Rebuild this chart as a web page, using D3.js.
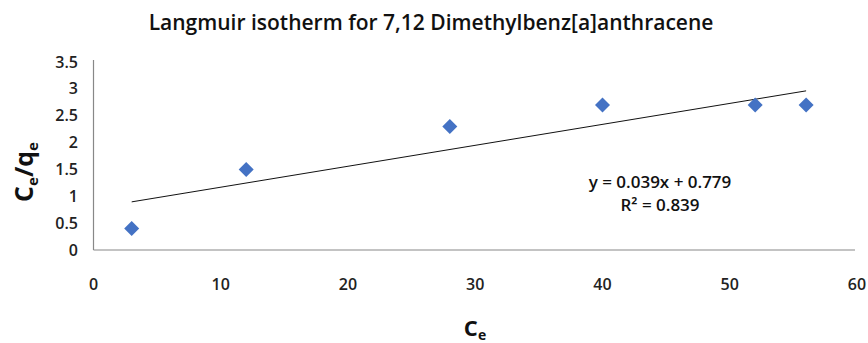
<!DOCTYPE html>
<html>
<head>
<meta charset="utf-8">
<script src="https://cdn.jsdelivr.net/npm/d3@7"></script>
<style>
  body { margin: 0; background: #fff; }
  text { font-family: "Open Sans", "Noto Sans", sans-serif; }
</style>
</head>
<body>
<div id="chart"></div>
<script>
// data
const ce = [3, 12, 28, 40, 52, 56];
const ceqe = [0.4, 1.5, 2.3, 2.7, 2.7, 2.7];
const xTicks = [0, 10, 20, 30, 40, 50, 60];
const yTicks = [0, 0.5, 1, 1.5, 2, 2.5, 3, 3.5];
const slope = 0.039, intercept = 0.779, r2 = 0.839;

const W = 868, H = 343;
const svg = d3.select("#chart").append("svg")
  .attr("width", W).attr("height", H);

const x = d3.scaleLinear().domain([0, 60]).range([93.5, 857]);
const y = d3.scaleLinear().domain([0, 3.5]).range([250, 62]);

// axis lines
svg.append("line")
  .attr("x1", x(0)).attr("x2", x(0))
  .attr("y1", y(0)).attr("y2", y(3.5) - 2)
  .attr("stroke", "#888").attr("stroke-width", 1.2);
svg.append("line")
  .attr("x1", x(0)).attr("x2", x(60) - 2)
  .attr("y1", y(0)).attr("y2", y(0))
  .attr("stroke", "#888").attr("stroke-width", 1.2);

// tick labels
svg.append("g").selectAll("text")
  .data(yTicks).enter().append("text")
  .attr("x", 78).attr("y", d => y(d))
  .attr("dy", "0.35em")
  .attr("text-anchor", "end")
  .attr("font-size", 16).attr("font-weight", 600)
  .attr("fill", "#222")
  .text(d => d);

svg.append("g").selectAll("text")
  .data(xTicks).enter().append("text")
  .attr("x", d => x(d)).attr("y", 284)
  .attr("dy", "0.35em")
  .attr("text-anchor", "middle")
  .attr("font-size", 16).attr("font-weight", 600)
  .attr("fill", "#222")
  .text(d => d);

// trendline
const x0 = d3.min(ce), x1 = d3.max(ce);
svg.append("line")
  .attr("x1", x(x0)).attr("y1", y(slope * x0 + intercept))
  .attr("x2", x(x1)).attr("y2", y(slope * x1 + intercept))
  .attr("stroke", "#111").attr("stroke-width", 1);

// points
svg.append("g").selectAll("path")
  .data(ce).enter().append("path")
  .attr("transform", (d, i) => `translate(${x(d)},${y(ceqe[i])})`)
  .attr("d", "M0,-7.5L7.5,0L0,7.5L-7.5,0Z")
  .attr("fill", "#4472C4");

// title
svg.append("text")
  .attr("x", 431).attr("y", 30)
  .attr("text-anchor", "middle")
  .attr("font-size", 21).attr("font-weight", 600)
  .attr("fill", "#111")
  .text("Langmuir isotherm for 7,12 Dimethylbenz[a]anthracene");

// equation
const eq = svg.append("g").attr("font-size", 17).attr("font-weight", 600).attr("fill", "#111");
eq.append("text")
  .attr("x", 660).attr("y", 182).attr("dy", "0.35em")
  .attr("text-anchor", "middle")
  .text(`y = ${slope}x + ${intercept}`);
eq.append("text")
  .attr("x", 660).attr("y", 205).attr("dy", "0.35em")
  .attr("text-anchor", "middle")
  .text(`R² = ${r2}`);

// axis titles
const yl = svg.append("text")
  .attr("transform", "translate(33,172) rotate(-90)")
  .attr("text-anchor", "middle")
  .attr("font-size", 25).attr("font-weight", 700)
  .attr("fill", "#111");
yl.append("tspan").text("C");
yl.append("tspan").attr("font-size", 15).attr("dy", 5).text("e");
yl.append("tspan").attr("dy", -5).text("/q");
yl.append("tspan").attr("font-size", 15).attr("dy", 5).text("e");

const xl = svg.append("text")
  .attr("x", 475).attr("y", 336)
  .attr("text-anchor", "middle")
  .attr("font-size", 22).attr("font-weight", 700)
  .attr("fill", "#111");
xl.append("tspan").text("C");
xl.append("tspan").attr("font-size", 14).attr("dy", 4).text("e");
</script>
</body>
</html>
